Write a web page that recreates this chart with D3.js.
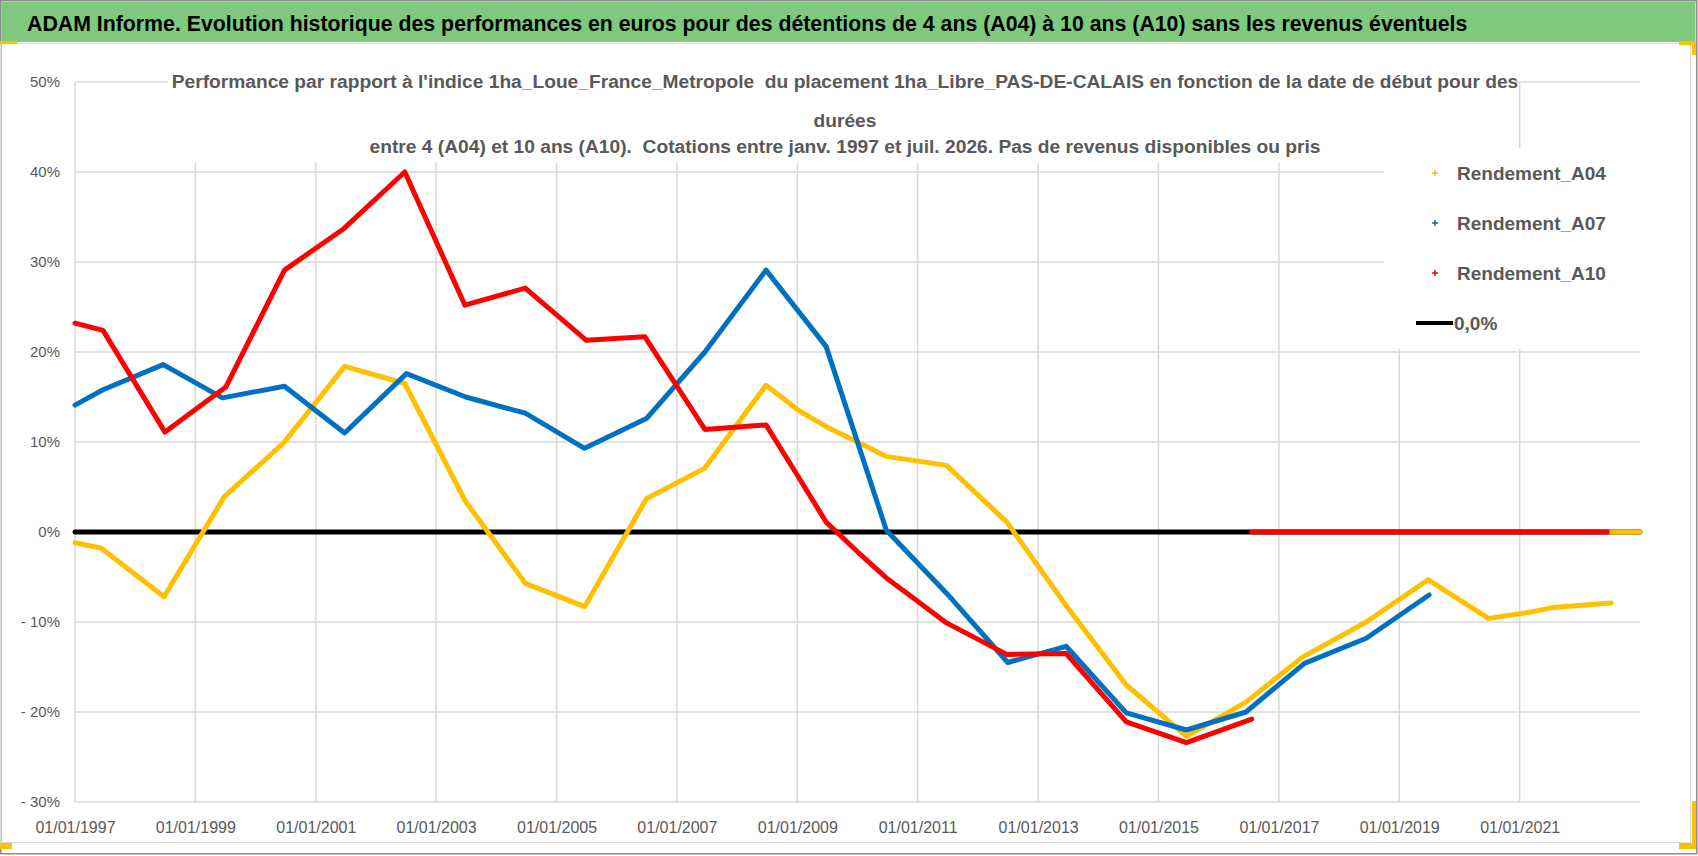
<!DOCTYPE html>
<html>
<head>
<meta charset="utf-8">
<script src="https://cdn.jsdelivr.net/npm/d3@7"></script>
<style>
  body { margin: 0; background: #fff; }
  svg { display: block; font-family: "Liberation Sans", Arial, sans-serif; }
  .grid line { stroke: #d9d9d9; stroke-width: 1.5; }
  .tick text { fill: #595959; }
  .serie { fill: none; stroke-width: 5; stroke-linejoin: round; stroke-linecap: round; }
  .subtitle { white-space: pre; }
</style>
</head>
<body>
<script>
// valeurs : [date, rendement en %]
const a04 = [
  ["1997-01-01", -1.2], ["1997-06-10", -1.8], ["1998-06-25", -7.2], ["1999-06-25", 3.9],
  ["2000-06-20", 9.9], ["2001-06-25", 18.4], ["2002-06-25", 16.5], ["2003-06-25", 3.5],
  ["2004-06-25", -5.7], ["2005-06-20", -8.3], ["2006-06-30", 3.7], ["2007-06-20", 7.1],
  ["2008-06-25", 16.3], ["2009-01-01", 13.6], ["2009-06-25", 11.7], ["2010-01-01", 10.0],
  ["2010-06-25", 8.4], ["2011-06-25", 7.4], ["2012-06-25", 1.1], ["2013-06-25", -8.3],
  ["2014-06-20", -17.0], ["2015-06-20", -22.7], ["2016-06-15", -18.9], ["2017-05-25", -13.9],
  ["2018-06-15", -10.0], ["2019-06-25", -5.3], ["2020-06-25", -9.6], ["2021-03-05", -8.9],
  ["2021-07-20", -8.4], ["2022-07-10", -7.9]
];
const a07 = [
  ["1997-01-01", 14.1], ["1997-06-20", 15.8], ["1998-06-20", 18.6], ["1999-06-15", 14.9],
  ["2000-06-25", 16.2], ["2001-06-25", 11.0], ["2002-07-05", 17.6], ["2003-06-30", 15.0],
  ["2004-06-25", 13.2], ["2005-06-20", 9.3], ["2006-06-30", 12.6], ["2007-06-20", 20.0],
  ["2008-06-25", 29.1], ["2009-06-25", 20.6], ["2010-06-25", 0.2], ["2011-06-25", -6.8],
  ["2012-07-01", -14.5], ["2013-06-20", -12.7], ["2014-06-20", -20.1], ["2015-06-20", -22.0],
  ["2016-06-15", -20.0], ["2017-06-05", -14.6], ["2018-06-15", -11.8], ["2019-07-01", -7.0]
];
const a10 = [
  ["1997-01-01", 23.2], ["1997-06-20", 22.4], ["1998-07-01", 11.1], ["1999-07-05", 16.1],
  ["2000-06-25", 29.1], ["2001-06-20", 33.7], ["2002-06-25", 40.0], ["2003-06-25", 25.2],
  ["2004-06-25", 27.1], ["2005-07-01", 21.3], ["2006-06-20", 21.7], ["2007-06-20", 11.4],
  ["2008-06-25", 11.9], ["2009-01-01", 6.3], ["2009-06-25", 1.1], ["2010-01-01", -2.2],
  ["2010-06-25", -5.1], ["2011-01-01", -7.7], ["2011-06-25", -10.1], ["2012-06-25", -13.6],
  ["2013-06-20", -13.5], ["2014-06-20", -21.1], ["2015-06-20", -23.4], ["2016-07-20", -20.8]
];
// valeurs nulles apres la fin des series
const a10Zero = [["2016-07-20", 0], ["2022-06-15", 0]];
const a04Zero = [["2022-07-10", 0], ["2023-01-01", 0]];
const zeroLine = [["1997-01-01", 0], ["2023-01-01", 0]];

const yTicks = [-30, -20, -10, 0, 10, 20, 30, 40, 50];
const xTickYears = [1997, 1999, 2001, 2003, 2005, 2007, 2009, 2011, 2013, 2015, 2017, 2019, 2021];
const legendNames = ["Rendement_A04", "Rendement_A07", "Rendement_A10", "0,0%"];
const colors = ["#FFC000", "#0070C0", "#FF0000", "#000000"];

const titleText = "ADAM Informe. Evolution historique des performances en euros pour des détentions de 4 ans (A04) à 10 ans (A10) sans les revenus éventuels";
const subtitleLines = [
  "Performance par rapport à l'indice 1ha_Loue_France_Metropole  du placement 1ha_Libre_PAS-DE-CALAIS en fonction de la date de début pour des",
  "durées",
  "entre 4 (A04) et 10 ans (A10).  Cotations entre janv. 1997 et juil. 2026. Pas de revenus disponibles ou pris"
];

const width = 1698, height = 856;
const margin = { top: 82, right: 58, bottom: 54, left: 75 };
const parse = d3.timeParse("%Y-%m-%d");

const svg = d3.select("body")
  .append("svg")
    .attr("width", width)
    .attr("height", height);

// cadre et bandeau
svg.append("rect")
  .attr("x", 0.75).attr("y", 0.75)
  .attr("width", 1696).attr("height", 853)
  .attr("fill", "#fff")
  .attr("stroke", "#8c8c8c")
  .attr("stroke-width", 1.5);
svg.append("rect")
  .attr("x", 1.5).attr("y", 2)
  .attr("width", 1694).attr("height", 40)
  .attr("fill", "#7fc97f");
svg.append("rect")
  .attr("x", 0.5).attr("y", 43.5)
  .attr("width", 1690).attr("height", 799)
  .attr("fill", "none")
  .attr("stroke", "#d9d9d9");
svg.append("text")
  .attr("x", 27)
  .attr("y", 31)
  .attr("font-size", 21.3)
  .attr("font-weight", "bold")
  .attr("fill", "#000")
  .text(titleText);

// poignees de selection
const handles = [[0, 41, 17, 3], [0, 843, 12, 6], [1679, 41, 17, 4], [1692, 41, 4, 14],
  [1692, 801, 4, 48], [1679, 843, 17, 6]];
svg.selectAll(".handle")
  .data(handles)
  .enter().append("rect")
    .classed("handle", true)
    .attr("x", d => d[0]).attr("y", d => d[1])
    .attr("width", d => d[2]).attr("height", d => d[3])
    .attr("fill", "#FFC000");

const x = d3.scaleTime()
  .domain([parse("1997-01-01"), parse("2023-01-01")])
  .range([margin.left, width - margin.right]);
const y = d3.scaleLinear()
  .domain([-30, 50])
  .range([height - margin.bottom, margin.top]);

// grille
const grid = svg.append("g").classed("grid", true);
grid.selectAll(".hline")
  .data(yTicks)
  .enter().append("line")
    .attr("x1", x.range()[0]).attr("x2", x.range()[1])
    .attr("y1", d => y(d)).attr("y2", d => y(d));
grid.selectAll(".vline")
  .data(xTickYears)
  .enter().append("line")
    .attr("x1", d => x(new Date(d, 0, 1))).attr("x2", d => x(new Date(d, 0, 1)))
    .attr("y1", y.range()[1]).attr("y2", y.range()[0]);

// zones blanches du sous-titre et de la legende
svg.append("rect")
  .attr("x", 168).attr("y", 62)
  .attr("width", 1346).attr("height", 101)
  .attr("fill", "#fff");
svg.append("rect")
  .attr("x", 1384).attr("y", 148)
  .attr("width", 258).attr("height", 201)
  .attr("fill", "#fff");

// axes
const yAxis = d3.axisLeft(y)
  .tickValues(yTicks)
  .tickSize(0)
  .tickPadding(15)
  .tickFormat(d => d < 0 ? "- " + Math.abs(d) + "%" : d + "%");
svg.append("g")
  .attr("transform", "translate(" + margin.left + ",0)")
  .call(yAxis)
  .call(g => g.select(".domain").remove())
  .selectAll("text")
    .attr("font-size", 15)
    .attr("font-family", null);

const xAxis = d3.axisBottom(x)
  .tickValues(xTickYears.map(d => new Date(d, 0, 1)))
  .tickSize(0)
  .tickPadding(20)
  .tickFormat(d3.timeFormat("%d/%m/%Y"));
svg.append("g")
  .attr("transform", "translate(0," + (height - margin.bottom) + ")")
  .call(xAxis)
  .call(g => g.select(".domain").remove())
  .selectAll("text")
    .attr("font-size", 16)
    .attr("font-family", null);

// series
const line = d3.line()
  .x(d => x(parse(d[0])))
  .y(d => y(d[1]));
const series = [
  { data: zeroLine, color: colors[3], w: 4 },
  { data: a04, color: colors[0], w: 5.5 },
  { data: a04Zero, color: colors[0], w: 5.5 },
  { data: a07, color: colors[1], w: 5.5 },
  { data: a10, color: colors[2], w: 5.5 },
  { data: a10Zero, color: colors[2], w: 5.5 }
];
svg.append("g")
  .selectAll(".serie")
  .data(series)
  .enter().append("path")
    .classed("serie", true)
    .attr("d", d => line(d.data))
    .attr("stroke", d => d.color)
    .attr("stroke-width", d => d.w)
    .attr("stroke-linecap", d => d.w == 4 ? "butt" : "round");

// sous-titre
svg.append("g")
  .selectAll("text")
  .data(subtitleLines)
  .enter().append("text")
    .classed("subtitle", true)
    .attr("x", 845)
    .attr("y", (d, i) => [88, 127, 153][i])
    .attr("text-anchor", "middle")
    .attr("font-size", 19.2)
    .attr("font-weight", "bold")
    .attr("fill", "#595959")
    .text(d => d);

// legende
const legend = svg.append("g")
  .attr("transform", "translate(1416,173)");
const item = legend.selectAll(".item")
  .data(legendNames)
  .enter().append("g")
    .classed("item", true)
    .attr("transform", (d, i) => "translate(0," + i * 50 + ")");
item.filter((d, i) => i < 3)
  .append("path")
    .attr("d", "M16,0H22M19,-3V3")
    .attr("stroke", (d, i) => colors[i])
    .attr("stroke-width", 1.5);
item.filter((d, i) => i == 3)
  .append("line")
    .attr("x1", 0).attr("x2", 37)
    .attr("stroke", "#000")
    .attr("stroke-width", 4);
item.append("text")
  .attr("x", (d, i) => i < 3 ? 41 : 38)
  .attr("y", 7)
  .attr("font-size", 19)
  .attr("font-weight", "bold")
  .attr("fill", "#595959")
  .text(d => d);
</script>
</body>
</html>
